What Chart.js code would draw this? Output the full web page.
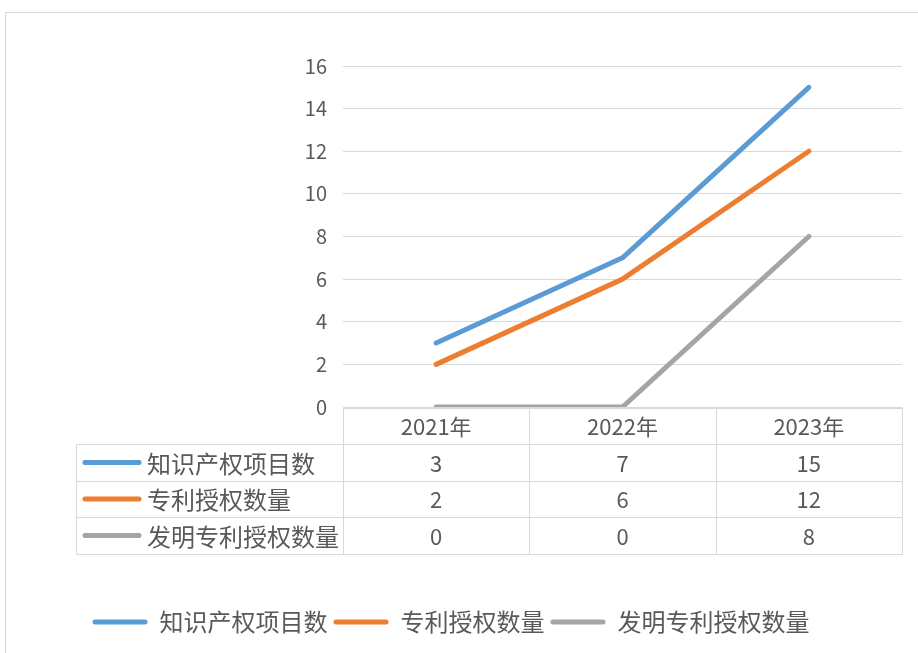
<!DOCTYPE html>
<html>
<head>
<meta charset="utf-8">
<script src="https://cdn.jsdelivr.net/npm/chart.js@4.4.1/dist/chart.umd.min.js"></script>
<style>
  html, body { margin: 0; padding: 0; background: #fff; }
  #wrap { position: relative; width: 918px; height: 653px; overflow: hidden; }
  #frame { position: absolute; left: 5px; top: 12px; width: 1000px; height: 1000px; border: 1px solid #d9d9d9; box-sizing: border-box; }
  canvas { position: absolute; left: 0; top: 0; }
</style>
</head>
<body>
<div id="wrap">
  <div id="frame"></div>
  <canvas id="c" width="918" height="653"></canvas>
</div>
<script>
const categories = ['2021年', '2022年', '2023年'];
const seriesNames = ['知识产权项目数', '专利授权数量', '发明专利授权数量'];
const ipProjects = [3, 7, 15];
const patentsGranted = [2, 6, 12];
const inventionPatents = [0, 0, 8];
const seriesColors = ['#5B9BD5', '#ED7D31', '#A5A5A5'];
const yMin = 0, yMax = 16, yStep = 2;

const textColor = '#595959';
const gridColor = '#d9d9d9';
const cjkFont = '"Noto Sans CJK SC", "Noto Sans", sans-serif';

const seriesValues = [ipProjects, patentsGranted, inventionPatents];

const dataTablePlugin = {
  id: 'dataTable',
  beforeDatasetsDraw(chart) {
    const { ctx, chartArea, scales } = chart;
    const x = scales.x;
    const left = Math.round(chartArea.left) + 0.5;
    const right = Math.round(chartArea.right) + 0.5;
    const top = Math.round(chartArea.bottom) + 0.5;
    const rowH = 36.6;
    const labelLeft = 76.5;
    const nRows = seriesValues.length + 1;
    const catW = (chartArea.right - chartArea.left) / categories.length;

    ctx.save();
    ctx.strokeStyle = gridColor;
    ctx.lineWidth = 1;
    ctx.beginPath();
    for (let k = 0; k <= nRows; k++) {
      const y = Math.round(top + k * rowH) + 0.5;
      ctx.moveTo(k === 0 ? left : labelLeft, y);
      ctx.lineTo(right, y);
    }
    ctx.moveTo(labelLeft, Math.round(top + rowH) + 0.5);
    ctx.lineTo(labelLeft, Math.round(top + nRows * rowH) + 0.5);
    for (let i = 0; i <= categories.length; i++) {
      const xx = Math.round(chartArea.left + i * catW) + 0.5;
      ctx.moveTo(xx, top);
      ctx.lineTo(xx, Math.round(top + nRows * rowH) + 0.5);
    }
    ctx.stroke();

    ctx.fillStyle = textColor;
    ctx.textBaseline = 'middle';
    ctx.textAlign = 'center';
    ctx.font = '22px ' + cjkFont;
    categories.forEach((c, i) => {
      ctx.fillText(c, x.getPixelForValue(i), top + rowH / 2 + 1);
    });
    seriesValues.forEach((vals, r) => {
      const cy = top + rowH * (r + 1) + rowH / 2 + 1;
      vals.forEach((v, i) => {
        ctx.fillText(String(v), x.getPixelForValue(i), cy);
      });
    });
    ctx.textAlign = 'left';
    ctx.font = '24px ' + cjkFont;
    seriesNames.forEach((name, r) => {
      const cy = top + rowH * (r + 1) + rowH / 2;
      ctx.strokeStyle = seriesColors[r];
      ctx.lineWidth = 5;
      ctx.lineCap = 'round';
      ctx.beginPath();
      ctx.moveTo(85, cy);
      ctx.lineTo(139, cy);
      ctx.stroke();
      ctx.fillStyle = textColor;
      ctx.fillText(name, 147, cy + 1);
    });
    ctx.restore();
  }
};

const ctx = document.getElementById('c').getContext('2d');
new Chart(ctx, {
  type: 'line',
  data: {
    labels: categories,
    datasets: seriesNames.map((name, i) => ({
      label: name,
      data: seriesValues[i],
      borderColor: seriesColors[i],
      backgroundColor: seriesColors[i],
      borderWidth: 5,
      pointRadius: 0,
      pointHoverRadius: 0,
      tension: 0,
      borderCapStyle: 'round',
      borderJoinStyle: 'round',
      fill: false
    }))
  },
  options: {
    responsive: false,
    animation: false,
    events: [],
    layout: { padding: { left: 0, right: 16, top: 66, bottom: 9 } },
    scales: {
      x: {
        type: 'category',
        offset: true,
        grid: { display: false },
        border: { display: false },
        ticks: { display: false },
        afterFit(scale) { scale.height = 197; }
      },
      y: {
        min: yMin,
        max: yMax,
        ticks: {
          stepSize: yStep,
          color: textColor,
          font: { family: cjkFont, size: 20 },
          padding: 16
        },
        grid: { color: gridColor, lineWidth: 1, drawTicks: false },
        border: { display: false },
        afterFit(scale) { scale.width = 343; }
      }
    },
    plugins: {
      tooltip: { enabled: false },
      legend: {
        position: 'bottom',
        labels: {
          color: textColor,
          font: { family: cjkFont, size: 24 },
          boxWidth: 55,
          boxHeight: 5,
          padding: 6,
          useBorderRadius: true,
          borderRadius: 2.5,
          generateLabels(chart) {
            const items = Chart.defaults.plugins.legend.labels.generateLabels(chart);
            return items.map(it => Object.assign(it, {
              fillStyle: it.strokeStyle,
              lineWidth: 0
            }));
          }
        }
      }
    }
  },
  plugins: [dataTablePlugin]
});
</script>
</body>
</html>
